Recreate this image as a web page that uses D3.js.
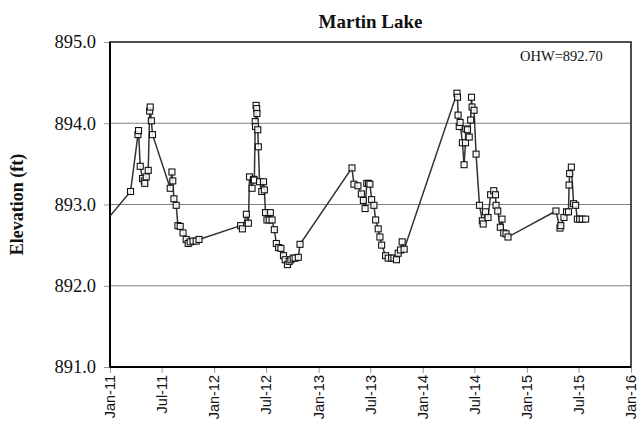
<!DOCTYPE html>
<html>
<head>
<meta charset="utf-8">
<script src="https://cdn.jsdelivr.net/npm/d3@7"></script>
<style>
  html, body { margin: 0; padding: 0; background: #fff; }
  svg { display: block; }
</style>
</head>
<body>
<svg id="chart" width="642" height="435"></svg>
<script>
// Lake level readings (date, elevation in ft)
const dates = [
  "2010-10-20",
  "2011-03-14","2011-04-09","2011-04-11","2011-04-17","2011-04-25","2011-05-01","2011-05-03","2011-05-08","2011-05-15",
  "2011-05-20","2011-05-22","2011-05-26","2011-05-30","2011-07-31","2011-08-06","2011-08-09","2011-08-13","2011-08-21",
  "2011-08-27","2011-09-04","2011-09-14","2011-09-25","2011-10-02","2011-10-09","2011-10-19","2011-10-30","2011-11-09",
  "2012-04-03","2012-04-09","2012-04-23","2012-04-30","2012-05-04","2012-05-13","2012-05-18","2012-05-21","2012-05-24",
  "2012-05-25","2012-05-27","2012-05-29","2012-05-30","2012-06-02","2012-06-04","2012-06-08","2012-06-16","2012-06-22",
  "2012-06-25","2012-06-29","2012-07-04","2012-07-12","2012-07-16","2012-07-22","2012-07-30","2012-08-06","2012-08-14",
  "2012-08-22","2012-08-31","2012-09-06","2012-09-14","2012-09-20","2012-09-26","2012-10-04","2012-10-11","2012-10-22",
  "2012-10-28",
  "2013-04-28","2013-05-05","2013-05-19","2013-05-31","2013-06-07","2013-06-13","2013-06-19","2013-06-25","2013-06-30",
  "2013-07-06","2013-07-14","2013-07-20","2013-07-29","2013-08-04","2013-08-10","2013-08-24","2013-09-02","2013-09-14",
  "2013-09-22","2013-10-01","2013-10-07","2013-10-15","2013-10-21","2013-10-28",
  "2014-05-01","2014-05-03","2014-05-05","2014-05-09","2014-05-12","2014-05-20","2014-05-26","2014-05-31","2014-06-01",
  "2014-06-07","2014-06-13","2014-06-18","2014-06-21","2014-06-23","2014-06-30","2014-07-07","2014-07-19","2014-07-29",
  "2014-08-01","2014-08-09","2014-08-18","2014-08-27","2014-09-07","2014-09-13","2014-09-15","2014-09-21","2014-09-30",
  "2014-10-06","2014-10-12","2014-10-20","2014-10-27",
  "2015-04-13","2015-04-27","2015-04-30","2015-05-11","2015-05-20","2015-05-27","2015-05-29","2015-05-31","2015-06-06",
  "2015-06-14","2015-06-21","2015-06-27","2015-07-05","2015-07-14","2015-07-26"
];
const elevations = [
  892.55,
  893.16,893.86,893.91,893.47,893.32,893.29,893.26,893.34,893.42,
  894.15,894.20,894.03,893.86,893.20,893.40,893.29,893.07,892.99,
  892.74,892.73,892.65,892.57,892.52,892.54,892.55,892.55,892.57,
  892.74,892.70,892.88,892.77,893.34,893.20,893.31,893.30,894.02,
  893.96,894.22,894.18,894.12,893.92,893.71,893.28,893.16,893.28,
  893.18,892.90,892.81,892.81,892.90,892.81,892.69,892.52,892.47,
  892.46,892.37,892.32,892.26,892.30,892.32,892.34,892.34,892.35,
  892.51,
  893.45,893.25,893.23,893.13,893.05,892.95,893.26,893.26,893.25,
  893.06,892.99,892.81,892.70,892.60,892.50,892.37,892.34,892.34,
  892.34,892.32,892.40,892.44,892.54,892.45,
  894.37,894.32,894.10,893.96,894.01,893.76,893.49,893.76,893.93,
  893.92,893.83,894.04,894.32,894.20,894.16,893.62,892.99,892.80,
  892.76,892.91,892.84,893.12,893.17,893.12,892.99,892.92,892.72,
  892.82,892.65,892.64,892.60,
  892.92,892.71,892.74,892.84,892.91,892.91,893.24,893.38,893.46,
  893.01,892.99,892.82,892.82,892.82,892.82
];
const yTicks = [891, 892, 893, 894, 895];
const xTickLabels = ["Jan-11","Jul-11","Jan-12","Jul-12","Jan-13","Jul-13","Jan-14","Jul-14","Jan-15","Jul-15","Jan-16"];
const title = "Martin Lake";
const yTitle = "Elevation (ft)";
const ohwNote = "OHW=892.70";

const parse = d3.timeParse("%Y-%m-%d");
const data = dates.map((d, i) => ({ date: parse(d), value: elevations[i] }));

const svg = d3.select("#chart");
const margin = { left: 110, right: 11, top: 42, bottom: 68 };
const W = 642, H = 435;
const innerW = W - margin.left - margin.right;
const innerH = H - margin.top - margin.bottom;

const serif = "'Liberation Serif', 'Times New Roman', serif";
const sans = "'Liberation Sans', Arial, sans-serif";

const x = d3.scaleTime()
  .domain([new Date(2011, 0, 1), new Date(2016, 0, 1)])
  .range([margin.left, margin.left + innerW]);
const y = d3.scaleLinear()
  .domain([891, 895])
  .range([margin.top + innerH, margin.top]);

const xTickDates = xTickLabels.map(s => d3.timeParse("%b-%y")(s));

svg.append("defs").append("clipPath").attr("id", "plotClip")
  .append("rect")
  .attr("x", margin.left).attr("y", margin.top)
  .attr("width", innerW).attr("height", innerH);

// Horizontal gridlines
svg.append("g")
  .selectAll("line")
  .data(yTicks.filter(t => t > 891 && t < 895))
  .join("line")
  .attr("x1", margin.left).attr("x2", margin.left + innerW)
  .attr("y1", d => y(d)).attr("y2", d => y(d))
  .attr("stroke", "#7f7f7f").attr("stroke-width", 1.2);

// Y axis
const yAxis = svg.append("g")
  .attr("transform", `translate(${margin.left},0)`)
  .call(d3.axisLeft(y).tickValues(yTicks).tickFormat(d3.format(".1f")).tickSize(6).tickPadding(8));
yAxis.select(".domain").remove();
yAxis.selectAll(".tick line").attr("stroke", "#999");
yAxis.selectAll("text")
  .attr("font-family", serif)
  .attr("font-size", 18.5).attr("fill", "#111");

// X axis
const xAxis = svg.append("g")
  .attr("transform", `translate(0,${margin.top + innerH})`)
  .call(d3.axisBottom(x).tickValues(xTickDates).tickFormat((d, i) => xTickLabels[i]).tickSize(6).tickPadding(4));
xAxis.select(".domain").remove();
xAxis.selectAll(".tick line").attr("stroke", "#999");
xAxis.selectAll("text")
  .attr("font-family", sans)
  .attr("font-size", 14.5).attr("fill", "#111")
  .attr("text-anchor", "end")
  .attr("dy", "0.33em")
  .attr("transform", "translate(0,8) rotate(-90)")
  .attr("x", 0).attr("y", 0);

// Plot frame
svg.append("rect")
  .attr("x", margin.left).attr("y", margin.top)
  .attr("width", innerW).attr("height", innerH)
  .attr("fill", "none").attr("stroke", "#222").attr("stroke-width", 1.6);
svg.append("line")
  .attr("x1", margin.left).attr("x2", margin.left)
  .attr("y1", margin.top).attr("y2", margin.top + innerH)
  .attr("stroke", "#000").attr("stroke-width", 2);
svg.append("line")
  .attr("x1", margin.left).attr("x2", margin.left + innerW)
  .attr("y1", margin.top + innerH).attr("y2", margin.top + innerH)
  .attr("stroke", "#000").attr("stroke-width", 2);

// Elevation line and markers
const plot = svg.append("g").attr("clip-path", "url(#plotClip)");
plot.append("path")
  .datum(data)
  .attr("fill", "none")
  .attr("stroke", "#333")
  .attr("stroke-width", 1.5)
  .attr("d", d3.line().x(d => x(d.date)).y(d => y(d.value)));

const ms = 6;
plot.append("g")
  .selectAll("rect")
  .data(data)
  .join("rect")
  .attr("x", d => x(d.date) - ms / 2)
  .attr("y", d => y(d.value) - ms / 2)
  .attr("width", ms).attr("height", ms)
  .attr("fill", "#fff").attr("fill-opacity", 0.85)
  .attr("stroke", "#111").attr("stroke-width", 1.1);

// Titles and note
svg.append("text")
  .attr("x", margin.left + innerW / 2).attr("y", 28)
  .attr("text-anchor", "middle")
  .attr("font-family", serif)
  .attr("font-weight", "bold").attr("font-size", 19).attr("fill", "#111")
  .text(title);

svg.append("text")
  .attr("transform", `translate(23,${margin.top + innerH / 2}) rotate(-90)`)
  .attr("text-anchor", "middle")
  .attr("font-family", serif)
  .attr("font-weight", "bold").attr("font-size", 18).attr("fill", "#111")
  .text(yTitle);

svg.append("text")
  .attr("x", 520).attr("y", 61)
  .attr("font-family", serif)
  .attr("font-size", 14.5).attr("fill", "#111")
  .text(ohwNote);
</script>
</body>
</html>
